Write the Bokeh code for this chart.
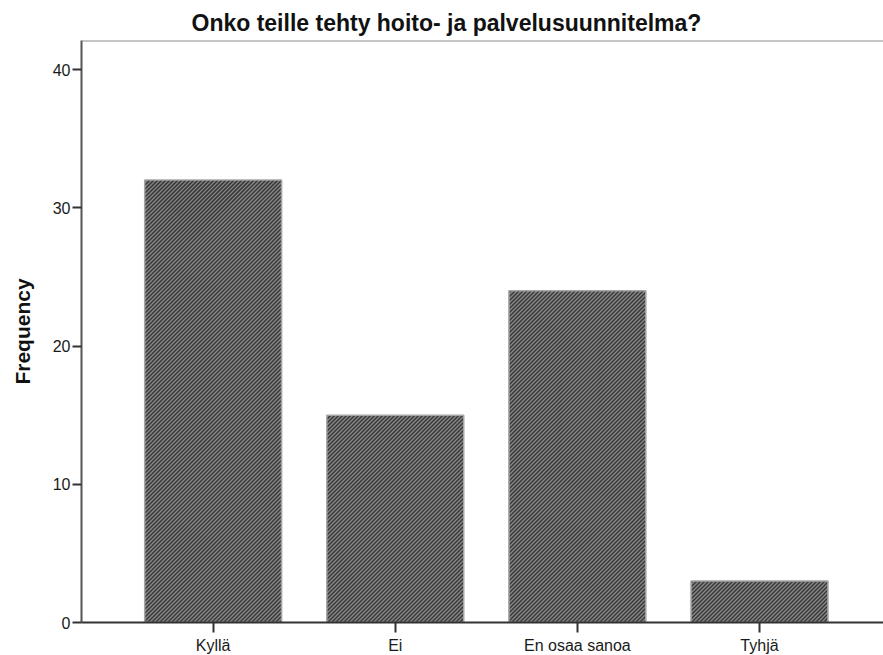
import numpy as np
from bokeh.plotting import figure
from bokeh.models import Range1d, FixedTicker, Span, ColumnDataSource
from bokeh.embed import file_html
from bokeh.resources import INLINE

# Survey answers and their counts
categories = ["Kyllä", "Ei", "En osaa sanoa", "Tyhjä"]
frequency = [32, 15, 24, 3]
y_ticks = [0, 10, 20, 30, 40]

title_text = "Onko teille tehty hoito- ja palvelusuunnitelma?"
y_label = "Frequency"

FONT = "Liberation Sans"

# Frame geometry in pixels
BORDER_LEFT, BORDER_RIGHT, BORDER_TOP, BORDER_BOTTOM = 81, 0, 40, 33
FRAME_W, FRAME_H = 802, 582

positions = list(range(len(categories)))
x_start, x_end = -0.723, len(categories) - 1 + 0.681
y_end = 42.1
bar_width = 0.752

p = figure(
    frame_width=FRAME_W, frame_height=FRAME_H,
    output_backend="svg", toolbar_location=None,
    x_range=Range1d(x_start, x_end),
    y_range=Range1d(0, y_end),
    min_border_left=BORDER_LEFT, min_border_right=BORDER_RIGHT,
    min_border_top=BORDER_TOP, min_border_bottom=BORDER_BOTTOM,
)
p.background_fill_color = "white"
p.border_fill_color = "white"
p.outline_line_color = None
p.xgrid.grid_line_color = None
p.ygrid.grid_line_color = None

source = ColumnDataSource(dict(x=positions, top=frequency, label=categories))

# Dark bar fill
p.vbar(x="x", top="top", bottom=0, width=bar_width, source=source,
       fill_color="#383838", line_color=None)

# 45-degree stripes inside every bar, spaced evenly in screen pixels
px_x = FRAME_W / (x_end - x_start)
px_y = FRAME_H / y_end
period = 4.0
sx0, sy0, sx1, sy1 = [], [], [], []
for xc, h in zip(positions, frequency):
    left_px = (xc - bar_width / 2 - x_start) * px_x
    right_px = (xc + bar_width / 2 - x_start) * px_x
    h_px = h * px_y
    c_first = np.floor((left_px - h_px) / period) * period
    for c in np.arange(c_first, right_px, period):
        ya = max(0.0, left_px - c)
        yb = min(h_px, right_px - c)
        if yb <= ya:
            continue
        sx0.append(x_start + (ya + c) / px_x)
        sy0.append(ya / px_y)
        sx1.append(x_start + (yb + c) / px_x)
        sy1.append(yb / px_y)
p.segment(x0=sx0, y0=sy0, x1=sx1, y1=sy1, line_color="#878787", line_width=1.4)

# Light bar outline on top of the stripes
p.vbar(x="x", top="top", bottom=0, width=bar_width, source=source,
       fill_color=None, line_color="#a6a6a6", line_width=1.5)

# Frame line along the top
p.add_layout(Span(location=y_end, dimension="width",
                  line_color="#8c8c8c", line_width=2))

# Title
p.title.text = title_text
p.title.align = "left"
p.title.vertical_align = "middle"
p.title.offset = 110
p.title.standoff = 8
p.title.text_font = FONT
p.title.text_font_size = "23px"
p.title.text_font_style = "bold"
p.title.text_color = "#111111"

# X axis
p.xaxis.ticker = FixedTicker(ticks=positions)
p.xaxis.major_label_overrides = {i: c for i, c in enumerate(categories)}
p.xaxis.minor_tick_line_color = None
p.xaxis.major_tick_out = 10
p.xaxis.major_tick_in = 0
p.xaxis.major_label_standoff = 4
p.xaxis.axis_line_color = "#333333"
p.xaxis.axis_line_width = 2
p.xaxis.major_tick_line_color = "#333333"
p.xaxis.major_tick_line_width = 2
p.xaxis.major_label_text_font = FONT
p.xaxis.major_label_text_font_size = "16px"
p.xaxis.major_label_text_color = "#1a1a1a"

# Y axis
p.yaxis.ticker = FixedTicker(ticks=y_ticks)
p.yaxis.minor_tick_line_color = None
p.yaxis.major_tick_out = 9
p.yaxis.major_tick_in = 0
p.yaxis.major_label_standoff = 2
p.yaxis.axis_line_color = "#555555"
p.yaxis.axis_line_width = 2
p.yaxis.major_tick_line_color = "#333333"
p.yaxis.major_tick_line_width = 2
p.yaxis.major_label_text_font = FONT
p.yaxis.major_label_text_font_size = "16px"
p.yaxis.major_label_text_color = "#1a1a1a"
p.yaxis.axis_label = y_label
p.yaxis.axis_label_text_font = FONT
p.yaxis.axis_label_text_font_size = "21px"
p.yaxis.axis_label_text_font_style = "bold"
p.yaxis.axis_label_text_color = "#111111"
p.yaxis.axis_label_standoff = 16

with open("out.html", "w") as f:
    f.write(file_html(p, INLINE))
